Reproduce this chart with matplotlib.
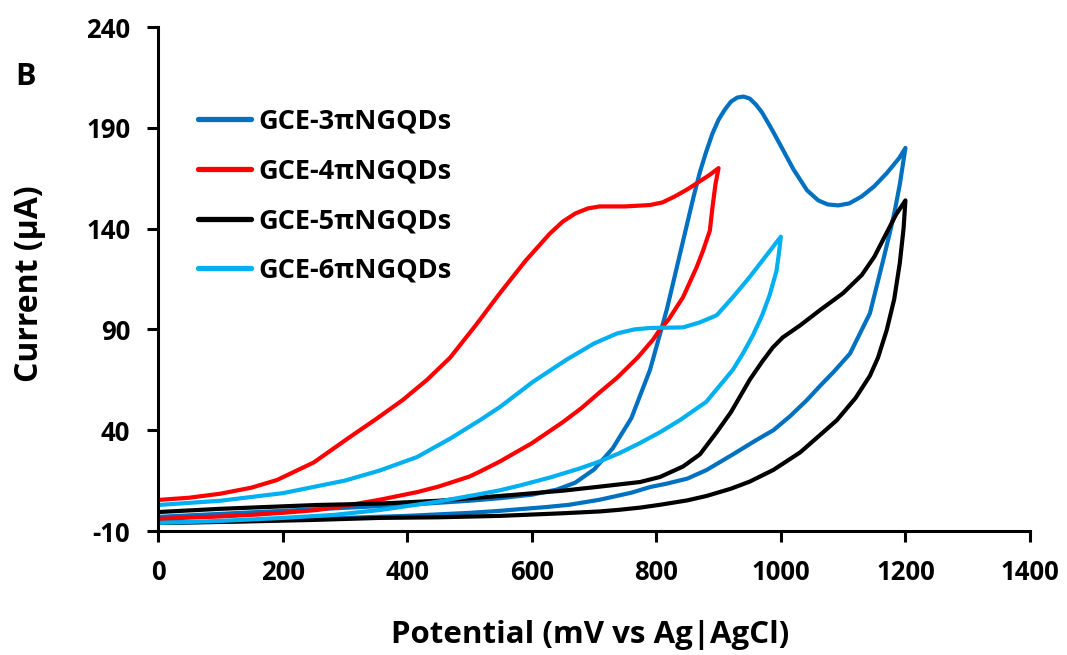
import matplotlib
matplotlib.use("Agg")
import matplotlib.pyplot as plt

plt.rcParams['font.family'] = ['Open Sans', 'DejaVu Sans']
plt.rcParams['font.weight'] = 'bold'
plt.rcParams['axes.unicode_minus'] = False

# Cyclic voltammograms: anodic (forward) sweep then cathodic (reverse) sweep
labels = ["GCE-3πNGQDs", "GCE-4πNGQDs", "GCE-5πNGQDs", "GCE-6πNGQDs"]
colors = ["#0070C0", "#FF0000", "#000000", "#00B0F0"]

# GCE-3πNGQDs
e3_fwd = [0, 100, 200, 300, 400, 500, 550, 600, 640, 670, 700, 730, 760, 790, 817, 850, 860, 870, 880, 890, 900, 910, 920, 930, 940, 950, 960, 970, 985, 1000, 1020, 1042, 1060, 1075, 1092, 1110, 1130, 1150, 1170, 1190, 1200]
i3_fwd = [-3, -1.5, 0, 1.5, 3, 5, 6.3, 8, 10.5, 14, 20.5, 31, 46, 70, 100, 143, 156, 168, 178, 187, 194, 199, 203, 205, 205.5, 204.5, 201.5, 197.5, 189.5, 181, 169.5, 159, 154, 152, 151.5, 152.5, 156, 161, 167.5, 175, 180]
e3_rev = [1200, 1195, 1191, 1183, 1175, 1164, 1143, 1111, 1085, 1063, 1042, 1015, 988, 960, 923, 881, 850, 817, 790, 760, 709, 660, 624, 580, 549, 500, 400, 300, 200, 100, 0]
i3_rev = [180, 170, 162, 149, 138, 124, 98, 78, 69, 62, 55, 47, 40, 35, 28, 20.3, 16, 13.5, 11.8, 9, 5.5, 3, 1.9, 0.8, 0, -1, -2.5, -3.5, -4.5, -5.5, -6]

# GCE-4πNGQDs
e4_fwd = [0, 50, 100, 150, 191, 250, 308, 350, 393, 432, 469, 510, 549, 590, 629, 650, 670, 690, 709, 750, 790, 810, 830, 850, 870, 885, 900]
i4_fwd = [5.4, 6.5, 8.5, 11.5, 15.3, 24, 36.6, 45.5, 55, 65, 76, 92, 108, 124, 137.5, 143.5, 147.5, 150, 151, 151, 151.7, 153, 156, 159.5, 163.5, 166.5, 170]
e4_rev = [900, 895, 890, 886, 875, 865, 843, 820, 806, 795, 770, 737, 710, 680, 650, 600, 549, 517, 500, 450, 416, 356, 300, 255, 200, 150, 100, 40, 0]
i4_rev = [170, 162, 150, 139, 129, 121, 106, 95, 90, 85, 76, 66, 59, 51, 44, 33.5, 24.5, 19.5, 17, 12, 9.3, 5.5, 2.5, 0.4, -1, -2, -2.8, -3.5, -4]

# GCE-5πNGQDs
e5_fwd = [0, 100, 255, 356, 450, 570, 650, 709, 774, 806, 843, 870, 897, 920, 950, 970, 987, 1003, 1031, 1063, 1100, 1130, 1150, 1170, 1185, 1200]
i5_fwd = [-0.6, 1, 2.9, 3.6, 5, 7.9, 10, 12, 14.3, 16.8, 22, 28, 39, 49, 65, 74, 81, 86, 92, 99.6, 108, 117, 126, 138, 147, 154]
e5_rev = [1200, 1197, 1191, 1182, 1170, 1156, 1143, 1120, 1090, 1068, 1031, 988, 950, 920, 881, 850, 806, 774, 740, 709, 650, 549, 450, 356, 250, 150, 0]
i5_rev = [154, 140, 123, 105, 89.7, 76, 67, 56, 45, 39, 29, 20.3, 14.5, 11, 7.4, 5.2, 3, 1.6, 0.5, -0.3, -1.2, -2.5, -3.2, -3.5, -4.5, -5.2, -6]

# GCE-6πNGQDs
e6_fwd = [0, 100, 201, 300, 356, 416, 470, 517, 549, 602, 656, 700, 737, 765, 790, 843, 870, 897, 923, 950, 975, 1000]
i6_fwd = [2.9, 5, 8.8, 15, 20, 26.7, 36, 45, 51.5, 64, 75, 83, 88, 90, 90.7, 91, 93.5, 97, 106, 116, 126, 136]
e6_rev = [1000, 997, 993, 982, 970, 955, 939, 923, 907, 880, 838, 806, 773, 740, 709, 677, 629, 580, 549, 517, 450, 356, 283, 201, 100, 0]
i6_rev = [136, 128, 119, 107, 97, 87, 78, 70, 64, 54, 45, 39, 33.5, 28.5, 24.5, 21, 16.5, 12.5, 10.2, 8.3, 4.6, 0.4, -2, -3.5, -5, -6]

scans = [
    (e3_fwd + e3_rev, i3_fwd + i3_rev),
    (e4_fwd + e4_rev, i4_fwd + i4_rev),
    (e5_fwd + e5_rev, i5_fwd + i5_rev),
    (e6_fwd + e6_rev, i6_fwd + i6_rev),
]

x_ticks = [0, 200, 400, 600, 800, 1000, 1200, 1400]
y_ticks = [-10, 40, 90, 140, 190, 240]

fig = plt.figure(figsize=(10.67, 6.55), dpi=100)
ax = fig.add_axes([158 / 1067, 1 - 531 / 655, 872 / 1067, 504 / 655])

for (e, i), lab, col in zip(scans, labels, colors):
    ax.plot(e, i, color=col, lw=3.0, label=lab, solid_joinstyle='round', solid_capstyle='round')

ax.set_xlim(0, 1400)
ax.set_ylim(-10, 240)
ax.set_xticks(x_ticks)
ax.set_yticks(y_ticks)
ax.tick_params(axis='both', direction='out', length=8, width=2.2, labelsize=18.5)
ax.tick_params(axis='x', pad=12)
ax.tick_params(axis='y', pad=12)
for lbl in ax.get_xticklabels() + ax.get_yticklabels():
    lbl.set_fontweight('bold')
for side in ['top', 'right']:
    ax.spines[side].set_visible(False)
for side in ['left', 'bottom']:
    ax.spines[side].set_linewidth(2.2)

ax.set_xlabel("Potential (mV vs Ag|AgCl)", fontsize=22.5, fontweight='bold', va='center')
ax.xaxis.set_label_coords(0.495, -0.206)
ax.set_ylabel("Current (µA)", fontsize=23, fontweight='bold', va='center')
ax.yaxis.set_label_coords(-0.147, 0.49)

leg = ax.legend(loc='upper left', bbox_to_anchor=(0.034, 0.86), frameon=False,
                fontsize=19.5, handlelength=1.95, handletextpad=0.25, labelspacing=0.88,
                borderaxespad=0.0)
for t in leg.get_texts():
    t.set_fontweight('bold')
for h in leg.get_lines():
    h.set_linewidth(3.8)

fig.text(25 / 1067, 1 - 77 / 655, "B", fontsize=22, fontweight='bold', ha='center', va='center')

fig.savefig("out.png", dpi=100)
